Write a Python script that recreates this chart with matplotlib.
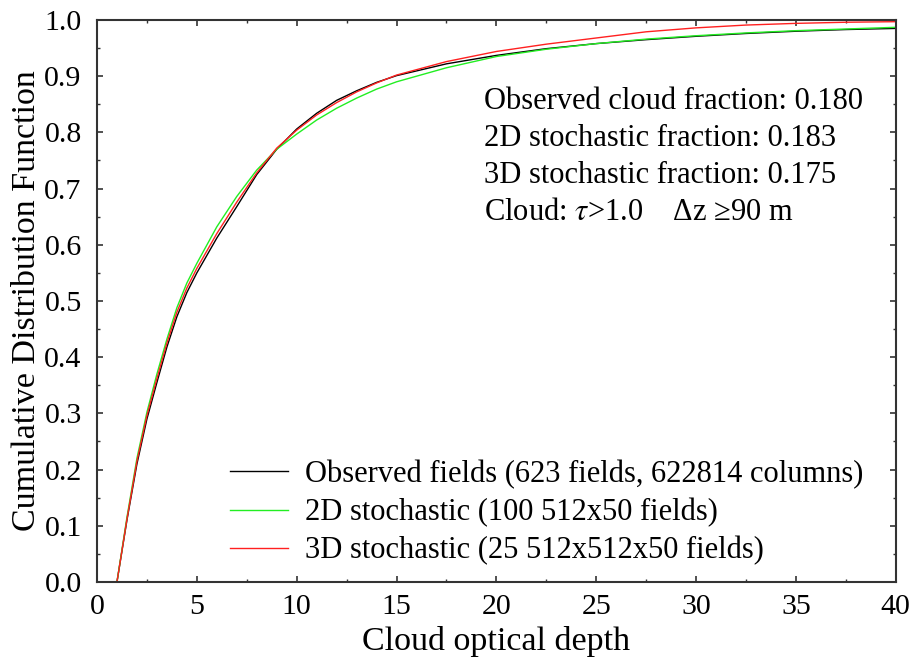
import numpy as np
import matplotlib
matplotlib.use("Agg")
import matplotlib.pyplot as plt

plt.rcParams['font.family'] = ['Liberation Serif', 'DejaVu Serif']
plt.rcParams['mathtext.fontset'] = 'stix'

# optical depth grid and CDF values
tau = [0, 1, 1.5, 2, 2.5, 3, 3.5, 4, 4.5, 5, 6, 7, 8, 9, 10, 11, 12, 13, 14, 15,
       17.5, 20, 22.5, 25, 27.5, 30, 32.5, 35, 37.5, 40]
cdf_obs = [0, 0, 0.11, 0.21, 0.29, 0.355, 0.418, 0.472, 0.515, 0.55, 0.612, 0.668,
           0.725, 0.77, 0.806, 0.834, 0.857, 0.874, 0.889, 0.901, 0.922, 0.937,
           0.949, 0.958, 0.965, 0.971, 0.976, 0.980, 0.983, 0.985]
cdf_2d = [0, 0, 0.115, 0.22, 0.302, 0.37, 0.432, 0.488, 0.532, 0.567, 0.632, 0.686,
          0.733, 0.77, 0.797, 0.822, 0.843, 0.861, 0.877, 0.890, 0.915, 0.935,
          0.948, 0.958, 0.966, 0.972, 0.977, 0.981, 0.984, 0.987]
cdf_3d = [0, 0, 0.112, 0.215, 0.296, 0.362, 0.425, 0.48, 0.523, 0.558, 0.62, 0.676,
          0.728, 0.772, 0.804, 0.831, 0.853, 0.872, 0.888, 0.902, 0.926, 0.944,
          0.957, 0.968, 0.979, 0.986, 0.991, 0.994, 0.996, 0.997]

labels = ['Observed fields (623 fields, 622814 columns)',
          '2D stochastic (100 512x50 fields)',
          '3D stochastic (25 512x512x50 fields)']
notes = ['Observed cloud fraction: 0.180',
         '2D stochastic fraction: 0.183',
         '3D stochastic fraction: 0.175',
         'Cloud: $\\tau$>1.0    \u0394z \u226590 m']

fig = plt.figure(figsize=(9.15, 6.6), dpi=100)
ax = fig.add_axes([0.106, 0.1182, 0.873, 0.8515])

ax.plot(tau, cdf_obs, color='black', lw=1.0, label=labels[0])
ax.plot(tau, cdf_2d, color='#22ee22', lw=1.0, label=labels[1])
ax.plot(tau, cdf_3d, color='#ff2020', lw=1.0, label=labels[2])

ax.set_xlim(0, 40)
ax.set_ylim(0, 1.0)
ax.set_xticks(np.arange(0, 41, 5))
ax.set_xticks(np.arange(0, 41, 2.5), minor=True)
ax.set_yticks(np.arange(0, 1.01, 0.1))
ax.set_yticks(np.arange(0, 1.01, 0.05), minor=True)
ax.set_yticklabels(['%.1f' % v for v in np.arange(0, 1.01, 0.1)])
ax.tick_params(which='both', direction='in', top=True, right=True,
               labelsize=21.5, color='#333333')
ax.tick_params(which='major', length=4, width=1.2)
ax.tick_params(which='minor', length=2.5, width=1.0)
ax.tick_params(axis='x', pad=9)
ax.tick_params(axis='y', pad=11)
for s in ax.spines.values():
    s.set_linewidth(1.5)
    s.set_color('#333333')

ax.set_xlabel('Cloud optical depth', fontsize=24.5, labelpad=4)
ax.set_ylabel('Cumulative Distribution Function', fontsize=24.5, labelpad=2)

for i, t in enumerate(notes):
    ax.text(19.4, 0.842 - i * 0.066, t, fontsize=22, va='baseline', ha='left')

ax.legend(loc='lower left', bbox_to_anchor=(0.1665, 0.029), frameon=False,
          fontsize=22, handlelength=1.9, handletextpad=0.55, labelspacing=0.3,
          borderpad=0, borderaxespad=0)

fig.savefig('out.png', dpi=100)
